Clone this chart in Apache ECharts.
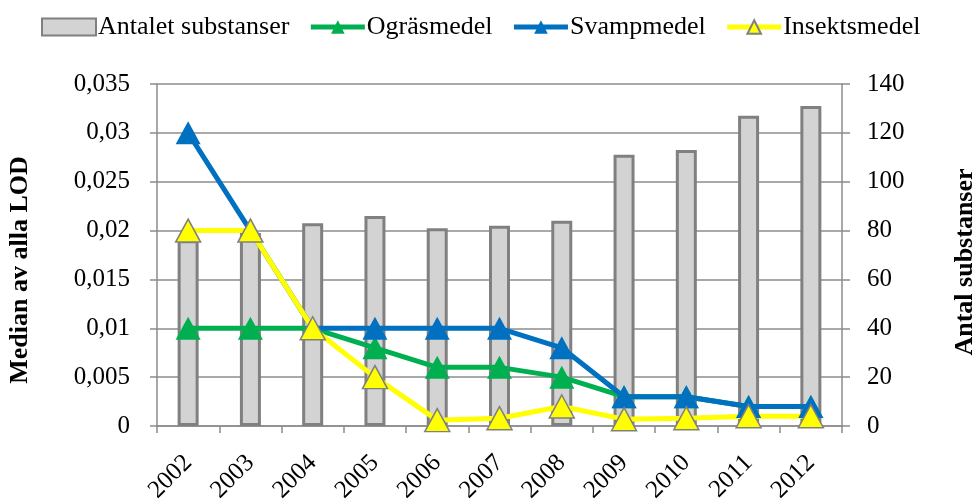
<!DOCTYPE html>
<html>
<head>
<meta charset="utf-8">
<script src="https://cdn.jsdelivr.net/npm/echarts@6/dist/echarts.min.js"></script>
<style>
  html, body { margin: 0; padding: 0; background: #fff; }
  #chart { width: 974px; height: 500px; }
</style>
</head>
<body>
<div id="chart"></div>
<script>
// år
const years = ['2002', '2003', '2004', '2005', '2006', '2007', '2008', '2009', '2010', '2011', '2012'];
// antal substanser (höger axel)
const antalet = [76, 79, 83, 86, 81, 82, 84, 111, 113, 127, 131];
// medianer (vänster axel)
const ograsmedel = [0.01, 0.01, 0.01, 0.008, 0.006, 0.006, 0.005, 0.003, 0.003, 0.002, 0.002];
const svampmedel = [0.03, 0.02, 0.01, 0.01, 0.01, 0.01, 0.008, 0.003, 0.003, 0.002, 0.002];
const insektsmedel = [0.02, 0.02, 0.01, 0.005, 0.0006, 0.0008, 0.002, 0.0007, 0.0008, 0.001, 0.001];

const font = 'Liberation Serif, Times New Roman, serif';
const gridColor = '#8c8c8c';

function comma(v) {
  if (v === 0) return '0';
  return String(+v.toFixed(3)).replace('.', ',');
}

function lineSeries(name, data, color, border) {
  return {
    name: name,
    type: 'line',
    yAxisIndex: 0,
    data: data,
    symbol: 'triangle',
    symbolSize: [25, 23],
    lineStyle: { color: color, width: 5 },
    itemStyle: { color: color, borderColor: border || color, borderWidth: border ? 1.5 : 0 },
    emphasis: { disabled: true }
  };
}

const chart = echarts.init(document.getElementById('chart'));
chart.setOption({
  animation: false,
  textStyle: { fontFamily: font },
  legend: {
    top: 9,
    left: 36,
    itemGap: 19,
    itemWidth: 54,
    itemHeight: 17,
    textStyle: { fontFamily: font, fontSize: 26, color: '#000', padding: [0, 0, 0, -3] },
    data: [
      { name: 'Antalet substanser', icon: 'rect' },
      { name: 'Ogräsmedel', lineStyle: { width: 5 } },
      { name: 'Svampmedel', lineStyle: { width: 5 } },
      { name: 'Insektsmedel', lineStyle: { width: 5 } }
    ]
  },
  grid: { left: 157, right: 132, top: 84, bottom: 74, outerBoundsMode: 'none', containLabel: false },
  xAxis: {
    type: 'category',
    data: years,
    boundaryGap: true,
    axisLine: { lineStyle: { color: gridColor, width: 1.5 } },
    axisTick: { show: true, length: 7, lineStyle: { color: gridColor, width: 1.5 } },
    axisLabel: { rotate: 45, fontSize: 25, color: '#000', fontFamily: font, margin: 33 }
  },
  yAxis: [
    {
      type: 'value',
      min: 0, max: 0.035, interval: 0.005,
      name: 'Median av alla LOD',
      nameLocation: 'middle',
      nameGap: 124,
      nameTextStyle: { fontFamily: font, fontSize: 26, fontWeight: 'bold', color: '#000', padding: [0, 30, 0, 0] },
      axisLine: { show: true, lineStyle: { color: gridColor, width: 1.5 } },
      axisTick: { show: true, length: 7, lineStyle: { color: gridColor, width: 1.5 } },
      axisLabel: { formatter: comma, fontSize: 25, color: '#000', fontFamily: font, margin: 27 },
      splitLine: { lineStyle: { color: gridColor, width: 1.5 } }
    },
    {
      type: 'value',
      min: 0, max: 140, interval: 20,
      name: 'Antal substanser',
      nameLocation: 'middle',
      nameGap: 110,
      nameRotate: 90,
      nameTextStyle: { fontFamily: font, fontSize: 26, fontWeight: 'bold', color: '#000', padding: [0, 14, 0, 0] },
      axisLine: { show: true, lineStyle: { color: gridColor, width: 1.5 } },
      axisTick: { show: true, length: 8, lineStyle: { color: gridColor, width: 1.5 } },
      axisLabel: { fontSize: 25, color: '#000', fontFamily: font, margin: 25 },
      splitLine: { show: false }
    }
  ],
  series: [
    {
      name: 'Antalet substanser',
      type: 'bar',
      yAxisIndex: 1,
      data: antalet,
      barWidth: 21,
      itemStyle: { color: '#d3d3d3', borderColor: '#808080', borderWidth: 3 },
      emphasis: { disabled: true }
    },
    lineSeries('Ogräsmedel', ograsmedel, '#00b050'),
    lineSeries('Svampmedel', svampmedel, '#0070c0'),
    lineSeries('Insektsmedel', insektsmedel, '#ffff00', '#808080')
  ]
});
</script>
</body>
</html>
